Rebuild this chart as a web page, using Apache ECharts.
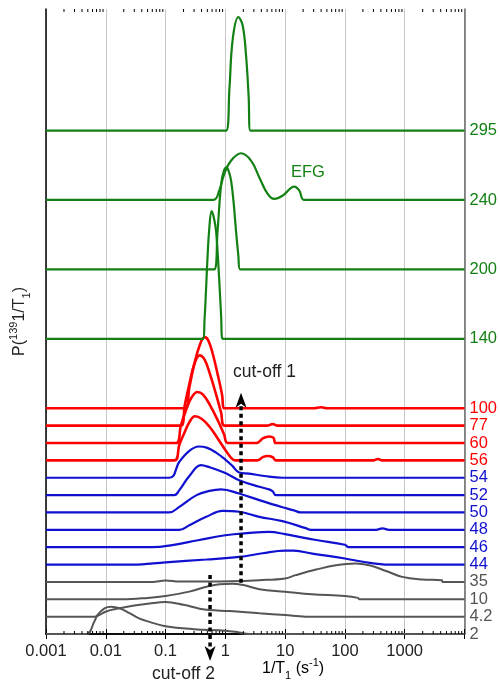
<!DOCTYPE html>
<html>
<head>
<meta charset="utf-8">
<script src="https://cdn.jsdelivr.net/npm/echarts@6/dist/echarts.min.js"></script>
<style>
  html, body { margin: 0; padding: 0; background: #fff; }
  #chart { width: 500px; height: 683px; }
</style>
</head>
<body>
<div id="chart"></div>
<script>
// Relaxation-rate distributions P(1/T1), one curve per temperature (K).
// Each curve: [1/T1 (s^-1), amplitude above its own baseline].
const t2   = [[0.001,0],[0.0047,0],[0.0065,0.75],[0.0073,1.1],[0.0095,1.48],[0.0123,1.57],[0.017,1.48],[0.025,1.2],[0.036,0.9],[0.054,0.7],[0.1,0.45],[0.3,0.28],[1,0.19],[1.7,0.09],[2.5,0],[10000,0]];
const t4_2 = [[0.001,0],[0.0065,0],[0.0101,0.3],[0.017,0.48],[0.03,0.64],[0.054,0.76],[0.1,0.84],[0.2,0.68],[0.37,0.46],[0.54,0.38],[1.17,0.32],[3.7,0.19],[10,0.09],[22,0],[10000,0]];
const t10  = [[0.001,0],[0.019,0],[0.05,0.08],[0.1,0.19],[0.25,0.44],[0.5,0.74],[0.8,0.86],[1.3,0.9],[2,0.82],[3.7,0.58],[10,0.44],[28,0.29],[100,0.19],[165,0.08],[175,0],[10000,0]];
const t35  = [[0.001,0],[0.06,0],[0.1,0.08],[0.17,0.02],[1.2,0.04],[3.7,0.1],[10,0.2],[15,0.39],[33,0.71],[71,0.96],[150,1.06],[255,0.96],[490,0.63],[910,0.29],[1960,0.14],[4200,0.1],[4300,0],[10000,0]];
const t44  = [[0.001,0],[0.028,0],[0.1,0.13],[0.48,0.29],[1.7,0.44],[4.2,0.65],[10,0.8],[14,0.8],[28.5,0.63],[100,0.35],[200,0.16],[550,0],[10000,0]];
const t46  = [[0.001,0],[0.06,0],[0.13,0.12],[0.35,0.4],[1,0.69],[2.5,0.82],[5.4,0.88],[10,0.75],[22,0.52],[35,0.4],[100,0.14],[115,0],[10000,0]];
const t48  = [[0.001,0],[0.17,0],[0.25,0.27],[0.48,0.75],[0.9,1.09],[1.7,1.04],[3.7,0.75],[9,0.5],[22,0.1],[27,0],[330,0],[425,0.08],[550,0],[10000,0]];
const t50  = [[0.001,0],[0.115,0],[0.17,0.32],[0.33,1.0],[0.54,1.24],[0.85,1.33],[1.7,1.09],[3.7,0.71],[9,0.3],[14,0.12],[18.5,0],[10000,0]];
const t52  = [[0.001,0],[0.14,0],[0.17,0.29],[0.25,1.1],[0.39,1.73],[0.54,1.61],[1,1.27],[1.7,0.86],[3.7,0.48],[5.4,0.33],[6.2,0.22],[7,0],[10000,0]];
const t54  = [[0.001,0],[0.115,0],[0.17,0.92],[0.25,1.55],[0.36,1.8],[0.5,1.72],[0.7,1.45],[1,1.05],[1.3,0.7],[1.7,0.3],[2.5,0.24],[4.5,0.1],[9,0],[10000,0]];
const t56  = [[0.001,0],[0.14,0],[0.17,0.9],[0.21,1.65],[0.25,2.2],[0.31,2.54],[0.4,2.4],[0.54,1.95],[0.75,1.25],[1,0.6],[1.25,0.15],[1.45,0],[3.4,0],[4.3,0.2],[5.1,0.25],[6.2,0.18],[7,0],[300,0],[355,0.08],[420,0],[10000,0]];
const t60  = [[0.001,0],[0.15,0],[0.18,1.0],[0.22,1.9],[0.27,2.6],[0.34,2.94],[0.42,2.8],[0.55,2.2],[0.75,1.3],[0.95,0.5],[1.1,0],[3.3,0],[4.3,0.28],[5.4,0.38],[6.4,0.3],[7,0],[10000,0]];
const t77  = [[0.001,0],[0.18,0],[0.21,1.2],[0.25,2.4],[0.3,3.5],[0.37,4.05],[0.45,3.8],[0.55,3.0],[0.7,1.8],[0.85,0.75],[0.97,0],[5,0],[6.2,0.1],[7.5,0],[10000,0]];
const t100 = [[0.001,0],[0.21,0],[0.25,1.2],[0.3,2.5],[0.37,3.6],[0.45,4.1],[0.52,3.9],[0.62,3.1],[0.75,1.9],[0.88,0.8],[0.97,0],[30,0],[40,0.06],[50,0],[10000,0]];
const t140 = [[0.001,0],[0.42,0],[0.45,1.2],[0.475,2.8],[0.5,4.5],[0.54,6.4],[0.59,7.36],[0.64,7.0],[0.7,6.2],[0.79,3.4],[0.85,1.3],[0.9,0],[10000,0]];
const t200 = [[0.001,0],[0.65,0],[0.74,2.2],[0.85,4.9],[0.95,5.7],[1.05,5.88],[1.15,5.6],[1.25,5.1],[1.38,3.8],[1.51,2.2],[1.65,0.8],[1.76,0],[10000,0]];
const t240 = [[0.001,0],[0.63,0],[0.79,0.54],[0.96,1.51],[1.25,2.27],[1.83,2.69],[2.69,2.27],[3.7,1.3],[5.1,0.35],[6.6,0.06],[9.1,0.25],[14.2,0.77],[17.3,0.54],[21,0],[10000,0]];
const t295 = [[0.001,0],[1.03,0],[1.17,2.4],[1.33,5.28],[1.65,6.53],[1.95,6.05],[2.22,4.32],[2.45,2.0],[2.62,0],[10000,0]];

// Temperature labels, in stacking order from bottom to top.
const temps  = ['2','4.2','10','35','44','46','48','50','52','54','56','60','77','100','140','200','240','295'];
const curves = [t2,t4_2,t10,t35,t44,t46,t48,t50,t52,t54,t56,t60,t77,t100,t140,t200,t240,t295];
// Baseline level of each curve on the stacking axis.
const levels = [0,1,2,3,4,5,6,7,8,9,10,11,12,13,17,21,25,29];

// Cut-off rates (s^-1) and their arrows (from level, to level).
const cutoffRates = [1.83, 0.555];
const cutoffSpans = [[2.95, 13.9], [3.4, -1.55]];

// x-axis decade labels
const xTicks = [0.001, 0.01, 0.1, 1, 10, 100, 1000];

const FONT = '"Liberation Sans", Arial, sans-serif';
const GRAY = '#555555', BLUE = '#1010d0', RED = '#ff0000', GREEN = '#138013';

function groupColor(i) {
  if (i <= 3) return GRAY;
  if (i <= 9) return BLUE;
  if (i <= 13) return RED;
  return GREEN;
}
function groupWidth(i) {
  if (i <= 3) return 2;
  if (i <= 9) return 2.2;
  if (i <= 13) return 2.6;
  return 2.2;
}

const labelAtLevel = {};
const colorAtLevel = {};
levels.forEach((lv, i) => { labelAtLevel[lv] = temps[i]; colorAtLevel[lv] = groupColor(i); });

// Minor tick positions (2..9 x each decade)
const minorTicks = [];
for (let e = -3; e < 4; e++) for (let m = 2; m <= 9; m++) minorTicks.push([m * Math.pow(10, e), 0]);

const lineSeries = curves.map((pts, i) => ({
  name: temps[i] + ' K',
  type: 'line',
  xAxisIndex: 0, yAxisIndex: 0,
  showSymbol: false,
  smooth: 0.4,
  silent: true,
  data: pts.map(p => [p[0], levels[i] + p[1]]),
  lineStyle: { color: groupColor(i), width: groupWidth(i) },
  z: 2 + Math.floor(i / 4)
}));

const minorTickSeries = {
  type: 'custom',
  xAxisIndex: 0, yAxisIndex: 0,
  silent: true,
  data: minorTicks,
  renderItem: function (params, api) {
    const x = api.coord([api.value(0), 0])[0];
    const cs = params.coordSys;
    const bottom = cs.y + cs.height;
    return {
      type: 'group',
      children: [
        { type: 'line', shape: { x1: x, y1: bottom, x2: x, y2: bottom - 3 }, style: { stroke: '#000', lineWidth: 1 } },
        { type: 'line', shape: { x1: x, y1: cs.y, x2: x, y2: cs.y + 3 }, style: { stroke: '#000', lineWidth: 1 } }
      ]
    };
  },
  z: 10
};

const arrowSeries = {
  type: 'custom',
  xAxisIndex: 0, yAxisIndex: 0,
  silent: true,
  clip: false,
  encode: { x: 0, y: [1, 2] },
  data: cutoffRates.map((r, i) => [r, cutoffSpans[i][0], cutoffSpans[i][1]]),
  renderItem: function (params, api) {
    const p0 = api.coord([api.value(0), api.value(1)]);
    const p1 = api.coord([api.value(0), api.value(2)]);
    const dir = p1[1] > p0[1] ? 1 : -1;
    const headLen = 15, headW = 5.5, notch = 4;
    const base = p1[1] - dir * headLen;
    const notchY = base + dir * notch;
    return {
      type: 'group',
      children: [
        { type: 'line', shape: { x1: p0[0], y1: p0[1], x2: p0[0], y2: notchY },
          style: { stroke: '#000', lineWidth: 3.5, lineDash: [4, 3.5] } },
        { type: 'polygon', shape: { points: [[p1[0], p1[1]], [p1[0] - headW, base], [p1[0], notchY], [p1[0] + headW, base]] },
          style: { fill: '#000' } }
      ]
    };
  },
  z: 20
};

const chart = echarts.init(document.getElementById('chart'), null, { renderer: 'canvas' });

const richSubSup = {
  t:   { fontSize: 16, lineHeight: 24, color: '#222', fontFamily: FONT },
  sup: { fontSize: 11, lineHeight: 12, verticalAlign: 'top', color: '#222', fontFamily: FONT },
  sub: { fontSize: 11, lineHeight: 12, verticalAlign: 'bottom', color: '#222', fontFamily: FONT }
};

chart.setOption({
  animation: false,
  backgroundColor: '#fff',
  textStyle: { fontFamily: FONT },
  grid: { left: 46, right: 35, top: 9, bottom: 49, containLabel: false },
  xAxis: [
    {
      type: 'log', logBase: 10, min: 0.001, max: 10000, position: 'bottom',
      axisLine: { show: true, lineStyle: { color: '#000', width: 1.5 } },
      axisTick: { show: true, inside: true, length: 5, lineStyle: { color: '#000', width: 1 } },
      axisLabel: {
        fontSize: 16.5, color: '#222', margin: 9, fontFamily: FONT,
        formatter: function (v) {
          const e = Math.round(Math.log10(v));
          if (xTicks.indexOf(Math.pow(10, e)) < 0 && e > 3) return '';
          return e < 0 ? Math.pow(10, e).toFixed(-e) : String(Math.pow(10, e));
        }
      },
      splitLine: { show: true, lineStyle: { color: '#c8c8c8', width: 1 } }
    },
    {
      type: 'log', logBase: 10, min: 0.001, max: 10000, position: 'top',
      axisLine: { show: true, lineStyle: { color: '#000', width: 1.5 } },
      axisTick: { show: true, inside: true, length: 5, lineStyle: { color: '#000', width: 1 } },
      axisLabel: { show: false },
      splitLine: { show: false }
    }
  ],
  yAxis: [
    {
      type: 'value', min: 0, max: 36, interval: 1, position: 'left',
      axisLine: { show: true, lineStyle: { color: '#000', width: 1.5 } },
      axisTick: { show: false }, axisLabel: { show: false }, splitLine: { show: false },
      name: '{t|P(}{sup|139}{t|1/T}{sub|1}{t|)}',
      nameLocation: 'middle', nameRotate: 90, nameGap: 14,
      nameTextStyle: { rich: richSubSup }
    },
    {
      type: 'value', min: 0, max: 36, interval: 1, position: 'right',
      axisLine: { show: true, lineStyle: { color: '#6a6a6a', width: 1.5 } },
      axisTick: { show: false }, splitLine: { show: false },
      axisLabel: {
        fontSize: 16.5, margin: 5, fontFamily: FONT,
        formatter: function (v) { return labelAtLevel[Number(v)] || ''; },
        color: function (v) { return colorAtLevel[Number(v)] || GRAY; }
      }
    }
  ],
  graphic: [
    { type: 'text', left: 262, top: 657, silent: true,
      style: { text: '{t|1/T}{sub|1}{t| (s}{sup|-1}{t|)}', rich: richSubSup } },
    { type: 'text', left: 233, top: 363, silent: true,
      style: { text: 'cut-off 1', fill: '#222', fontSize: 17.5, fontFamily: FONT } },
    { type: 'text', left: 152, top: 665, silent: true,
      style: { text: 'cut-off 2', fill: '#222', fontSize: 17.5, fontFamily: FONT } },
    { type: 'text', left: 291, top: 164, silent: true,
      style: { text: 'EFG', fill: GREEN, fontSize: 16.5, fontFamily: FONT } }
  ],
  series: lineSeries.concat([minorTickSeries, arrowSeries])
});
</script>
</body>
</html>
